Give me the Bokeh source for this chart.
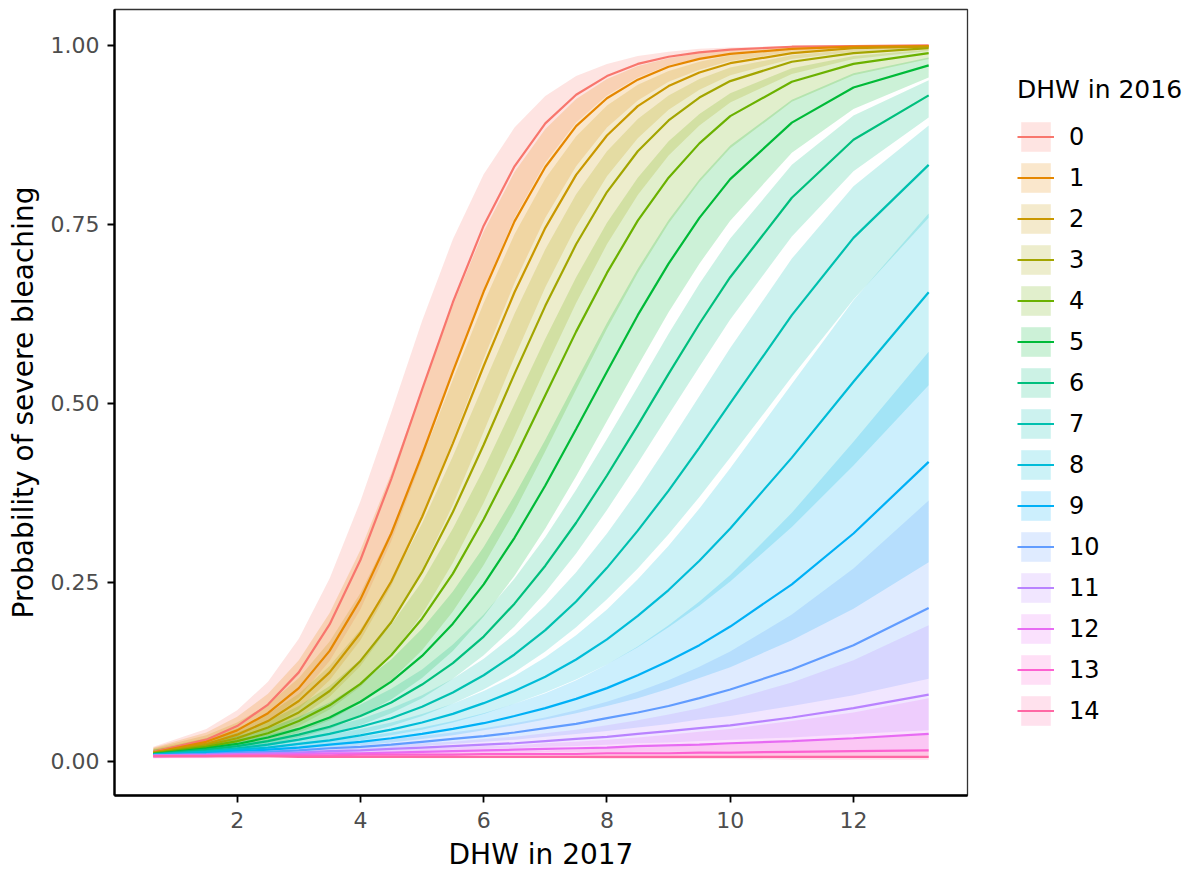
from bokeh.plotting import figure
from bokeh.models import Range1d, Legend, LegendItem, FixedTicker
from bokeh.embed import file_html
from bokeh.resources import INLINE

# DHW in 2017 (x positions where the curves were read)
dhw2017 = [0.64, 1.5, 2.0, 2.5, 3.0, 3.5, 4.0, 4.5, 5.0, 5.5, 6.0, 6.5, 7.0, 7.5, 8.0, 8.5, 9.0, 9.5, 10.0, 11.0, 12.0, 13.22]
# DHW in 2016 groups
dhw2016 = [str(d) for d in range(15)]
colors = ["#F8766D", "#E58700", "#C99800", "#A3A500", "#6BB100", "#00BA38", "#00BF7D", "#00C0AF",
          "#00BCD8", "#00B0F6", "#619CFF", "#B983FF", "#E76BF3", "#FD61D1", "#FF67A4"]

# probability of severe bleaching, per mille: fit (m), lower (l) and upper (u) band
m0 = [13, 30, 49, 79, 124, 191, 281, 394, 519, 641, 748, 831, 891, 931, 957, 974, 984, 990, 994, 998, 999, 1000]
l0 = [8, 20, 34, 55, 89, 140, 212, 307, 421, 543, 660, 759, 836, 892, 930, 955, 972, 982, 989, 996, 998, 999]
u0 = [20, 45, 71, 111, 171, 255, 363, 487, 615, 729, 820, 885, 929, 957, 974, 985, 991, 995, 997, 999, 1000, 1000]
m1 = [12, 27, 43, 67, 102, 154, 226, 318, 428, 544, 656, 754, 830, 887, 926, 952, 970, 981, 988, 995, 998, 999]
l1 = [8, 18, 29, 47, 73, 113, 169, 245, 340, 449, 562, 668, 759, 831, 885, 923, 949, 966, 978, 991, 996, 999]
u1 = [19, 40, 62, 94, 141, 207, 295, 402, 520, 637, 740, 823, 883, 925, 953, 971, 982, 989, 993, 998, 999, 1000]
m2 = [12, 24, 37, 56, 84, 124, 179, 251, 341, 444, 552, 655, 745, 819, 874, 915, 943, 962, 975, 989, 996, 998]
l2 = [8, 16, 26, 39, 60, 90, 133, 192, 267, 358, 460, 564, 662, 747, 817, 870, 910, 938, 958, 981, 991, 997]
u2 = [18, 36, 54, 79, 116, 167, 235, 322, 423, 533, 640, 736, 814, 873, 916, 945, 964, 977, 986, 994, 998, 999]
m3 = [11, 22, 32, 47, 68, 98, 140, 194, 264, 348, 442, 541, 636, 722, 795, 852, 895, 927, 950, 977, 989, 996]
l3 = [7, 15, 22, 33, 49, 72, 104, 148, 205, 277, 361, 454, 549, 640, 722, 791, 846, 888, 920, 960, 981, 992]
u3 = [17, 32, 46, 66, 94, 133, 184, 251, 332, 426, 526, 625, 715, 792, 852, 897, 930, 953, 969, 986, 994, 998]
m4 = [11, 20, 28, 39, 56, 78, 108, 148, 199, 262, 338, 422, 511, 600, 682, 755, 815, 863, 901, 949, 974, 989]
l4 = [7, 13, 19, 28, 40, 57, 81, 113, 155, 209, 274, 349, 433, 519, 604, 682, 751, 809, 856, 921, 958, 981]
u4 = [16, 29, 40, 56, 77, 105, 142, 191, 251, 325, 408, 499, 590, 676, 752, 815, 866, 904, 933, 968, 985, 994]
m5 = [10, 18, 24, 33, 45, 61, 83, 111, 147, 192, 247, 312, 385, 464, 544, 623, 695, 759, 813, 892, 941, 972]
l5 = [7, 12, 17, 23, 33, 45, 63, 86, 116, 154, 202, 259, 325, 398, 475, 552, 627, 695, 755, 850, 911, 955]
u5 = [16, 26, 35, 46, 62, 82, 109, 142, 185, 237, 299, 371, 449, 531, 612, 688, 756, 813, 860, 924, 961, 983]
m6 = [10, 16, 21, 28, 37, 48, 63, 82, 107, 137, 174, 220, 273, 333, 399, 469, 541, 611, 676, 787, 868, 930]
l6 = [7, 11, 15, 21, 28, 38, 50, 67, 88, 115, 148, 188, 236, 290, 351, 416, 484, 551, 617, 733, 824, 899]
u6 = [14, 22, 28, 37, 47, 61, 79, 101, 128, 163, 205, 255, 313, 379, 450, 523, 597, 667, 730, 833, 902, 951]
m7 = [9, 14, 18, 23, 30, 38, 48, 60, 76, 96, 120, 149, 183, 223, 270, 322, 378, 438, 500, 623, 731, 833]
l7 = [6, 10, 13, 18, 23, 30, 38, 49, 63, 80, 100, 124, 153, 187, 226, 269, 317, 369, 424, 537, 645, 759]
u7 = [13, 20, 24, 30, 38, 48, 59, 74, 92, 115, 143, 177, 217, 264, 318, 378, 443, 510, 577, 702, 803, 888]
m8 = [9, 13, 16, 19, 24, 29, 36, 44, 54, 66, 81, 98, 118, 142, 170, 203, 239, 280, 325, 424, 530, 655]
l8 = [6, 9, 12, 15, 19, 23, 29, 36, 44, 54, 66, 80, 96, 114, 135, 159, 187, 217, 251, 327, 413, 525]
u8 = [13, 17, 21, 25, 31, 37, 45, 54, 66, 80, 98, 119, 145, 176, 212, 254, 301, 353, 409, 527, 644, 765]
m9 = [8, 11, 14, 16, 19, 23, 27, 32, 38, 45, 53, 63, 74, 87, 102, 120, 140, 162, 188, 247, 318, 418]
l9 = [6, 8, 10, 12, 15, 18, 22, 26, 31, 36, 43, 50, 58, 67, 77, 88, 101, 116, 131, 169, 213, 278]
u9 = [12, 16, 18, 21, 25, 29, 34, 40, 47, 56, 67, 80, 95, 113, 135, 160, 190, 223, 260, 347, 446, 572]
m10 = [8, 10, 12, 13, 15, 18, 20, 23, 27, 31, 35, 40, 46, 52, 60, 68, 77, 88, 100, 128, 162, 214]
l10 = [5, 7, 8, 9, 11, 13, 15, 18, 21, 24, 27, 30, 34, 38, 42, 47, 52, 58, 63, 77, 92, 115]
u10 = [13, 16, 17, 19, 21, 24, 27, 31, 35, 40, 46, 53, 61, 71, 83, 97, 113, 132, 153, 205, 269, 364]
m11 = [8, 9, 10, 11, 12, 14, 15, 17, 19, 21, 23, 25, 28, 31, 34, 38, 42, 46, 50, 61, 74, 93]
l11 = [5, 6, 7, 8, 9, 10, 11, 13, 14, 16, 17, 18, 20, 21, 23, 25, 26, 28, 30, 33, 38, 43]
u11 = [12, 14, 15, 16, 17, 19, 20, 22, 25, 27, 31, 34, 39, 44, 50, 57, 65, 74, 85, 110, 141, 190]
m12 = [7, 8, 9, 9, 10, 11, 11, 12, 13, 14, 15, 16, 17, 18, 19, 21, 22, 23, 25, 28, 32, 38]
l12 = [5, 5, 6, 7, 7, 8, 8, 9, 10, 10, 11, 11, 12, 12, 12, 13, 13, 13, 14, 14, 15, 16]
u12 = [12, 12, 13, 13, 14, 15, 15, 16, 18, 19, 21, 22, 25, 27, 30, 33, 37, 41, 45, 56, 68, 88]
m13 = [7, 7, 8, 8, 8, 8, 9, 9, 9, 9, 10, 10, 10, 10, 11, 11, 11, 12, 12, 13, 14, 15]
l13 = [4, 5, 5, 5, 6, 6, 6, 6, 7, 7, 7, 7, 7, 7, 7, 6, 6, 6, 6, 6, 6, 5]
u13 = [11, 11, 11, 11, 11, 11, 12, 12, 12, 13, 14, 15, 15, 17, 18, 19, 20, 22, 24, 27, 32, 38]
m14 = [7, 7, 7, 7, 6, 6, 6, 6, 6, 6, 6, 6, 6, 6, 6, 6, 6, 6, 6, 6, 6, 6]
l14 = [4, 4, 4, 5, 5, 5, 5, 5, 4, 4, 4, 4, 4, 4, 3, 3, 3, 3, 3, 2, 2, 2]
u14 = [11, 10, 10, 9, 9, 9, 9, 9, 9, 9, 9, 9, 10, 10, 10, 11, 11, 12, 12, 13, 15, 16]

fits = [m0, m1, m2, m3, m4, m5, m6, m7, m8, m9, m10, m11, m12, m13, m14]
lows = [l0, l1, l2, l3, l4, l5, l6, l7, l8, l9, l10, l11, l12, l13, l14]
highs = [u0, u1, u2, u3, u4, u5, u6, u7, u8, u9, u10, u11, u12, u13, u14]

FONT = "DejaVu Sans"

p = figure(frame_width=853, frame_height=786, x_range=Range1d(0.01, 13.85), y_range=Range1d(-0.048, 1.05),
           output_backend="svg", toolbar_location=None, min_border_left=114, min_border_top=9,
           min_border_bottom=0, min_border_right=0)

bands, lines = [], []
for i in range(len(dhw2016)):
    bands.append(p.varea(x=dhw2017, y1=[v / 1000 for v in lows[i]], y2=[v / 1000 for v in highs[i]],
                         fill_color=colors[i], fill_alpha=0.2))
for i in range(len(dhw2016)):
    lines.append(p.line(x=dhw2017, y=[v / 1000 for v in fits[i]], line_color=colors[i], line_width=2.2))

p.xgrid.visible = False
p.ygrid.visible = False
p.xaxis.ticker = FixedTicker(ticks=[2, 4, 6, 8, 10, 12])
p.yaxis.ticker = FixedTicker(ticks=[0, 0.25, 0.5, 0.75, 1.0])
p.yaxis.major_label_overrides = {0: "0.00", 0.25: "0.25", 0.5: "0.50", 0.75: "0.75", 1: "1.00"}
for ax in (p.xaxis[0], p.yaxis[0]):
    ax.axis_line_color = "black"
    ax.axis_line_width = 2.4
    ax.major_tick_line_color = "black"
    ax.major_tick_line_width = 1.8
    ax.major_tick_out = 7
    ax.major_tick_in = 0
    ax.minor_tick_line_color = None
    ax.major_label_text_font = FONT
    ax.major_label_text_font_size = "22px"
    ax.major_label_text_color = "#4D4D4D"
    ax.axis_label_text_font = FONT
    ax.axis_label_text_font_size = "28px"
    ax.axis_label_text_font_style = "normal"
    ax.axis_label_text_color = "black"
p.xaxis.axis_label = "DHW in 2017"
p.yaxis.axis_label = "Probability of severe bleaching"
p.xaxis.major_label_standoff = 9
p.xaxis.axis_label_standoff = 7
p.yaxis.major_label_standoff = 8
p.yaxis.axis_label_standoff = 8
p.outline_line_color = "#333333"
p.outline_line_width = 1.3

items = [LegendItem(label=dhw2016[i], renderers=[bands[i], lines[i]]) for i in range(len(dhw2016))]
leg = Legend(items=items, title="DHW in 2016", location="center_left", glyph_width=37, glyph_height=37,
             spacing=4, label_standoff=15, padding=0, margin=50, border_line_color=None,
             background_fill_alpha=0, label_text_font=FONT, label_text_font_size="24px",
             title_text_font=FONT, title_text_font_size="25px", title_text_font_style="normal",
             title_standoff=14, label_text_color="black", title_text_color="black")
p.add_layout(leg, "right")

open("out.html", "w").write(file_html(p, INLINE))
